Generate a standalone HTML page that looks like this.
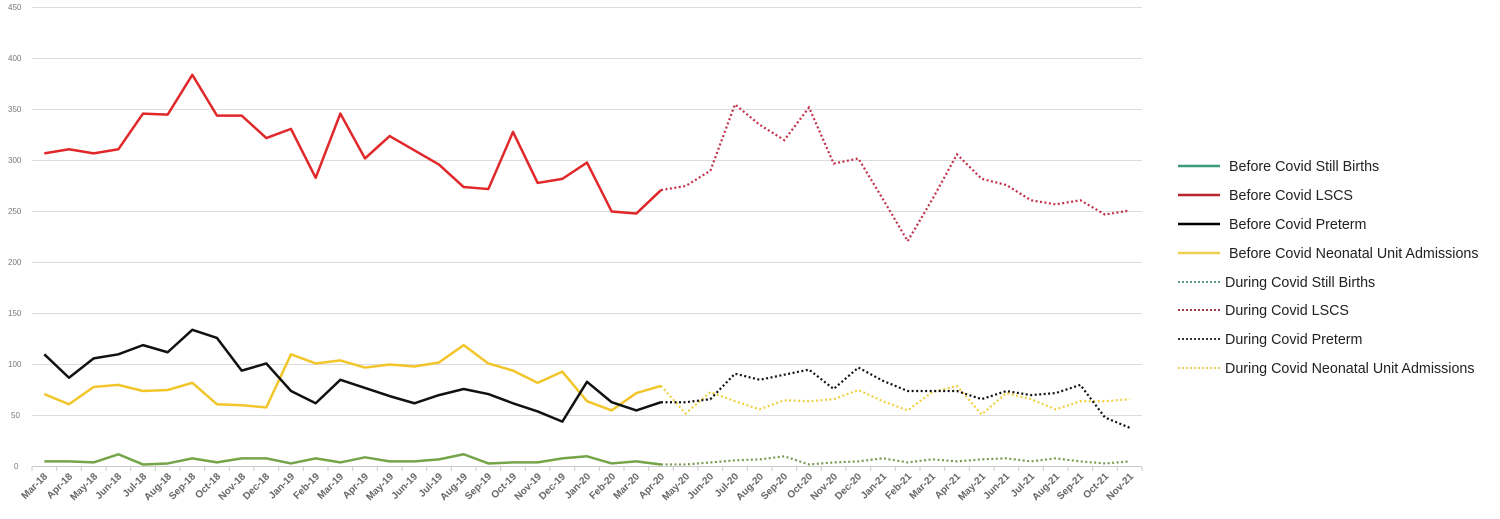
<!DOCTYPE html>
<html><head><meta charset="utf-8"><style>
body{margin:0;background:#fff;width:1500px;height:519px;overflow:hidden}
svg{display:block;font-family:"Liberation Sans",sans-serif}
.yl{font-size:8px;fill:#777}
.xl{font-size:10px;fill:#666;font-weight:bold}
.lg{font-size:14.3px;fill:#222}
</style></head><body>
<svg id="c" width="1500" height="519" viewBox="0 0 1500 519">
<g stroke="#dcdcdc" stroke-width="1">
<line x1="32" x2="1142" y1="7.5" y2="7.5"/><line x1="32" x2="1142" y1="58.5" y2="58.5"/>
<line x1="32" x2="1142" y1="109.5" y2="109.5"/><line x1="32" x2="1142" y1="160.5" y2="160.5"/>
<line x1="32" x2="1142" y1="211.5" y2="211.5"/><line x1="32" x2="1142" y1="262.5" y2="262.5"/>
<line x1="32" x2="1142" y1="313.5" y2="313.5"/><line x1="32" x2="1142" y1="364.5" y2="364.5"/>
<line x1="32" x2="1142" y1="415.5" y2="415.5"/><line x1="32" x2="1142" y1="466.5" y2="466.5" stroke="#c8c8c8"/>
</g>
<g class="yl" text-anchor="start">
<text x="8" y="10">450</text><text x="8" y="61">400</text><text x="8" y="112">350</text>
<text x="8" y="163">300</text><text x="8" y="214">250</text><text x="8" y="265">200</text>
<text x="8" y="316">150</text><text x="8" y="367">100</text><text x="11" y="418">50</text><text x="14" y="469">0</text>
</g>
<g id="ticks" stroke="#c8c8c8"></g>
<g id="series"></g>
<g class="xl" text-anchor="end">
<text transform="translate(48,477) rotate(-45)">Mar-18</text>
<text transform="translate(73,477) rotate(-45)">Apr-18</text>
<text transform="translate(98,477) rotate(-45)">May-18</text>
<text transform="translate(122,477) rotate(-45)">Jun-18</text>
<text transform="translate(147,477) rotate(-45)">Jul-18</text>
<text transform="translate(172,477) rotate(-45)">Aug-18</text>
<text transform="translate(196,477) rotate(-45)">Sep-18</text>
<text transform="translate(221,477) rotate(-45)">Oct-18</text>
<text transform="translate(246,477) rotate(-45)">Nov-18</text>
<text transform="translate(270,477) rotate(-45)">Dec-18</text>
<text transform="translate(295,477) rotate(-45)">Jan-19</text>
<text transform="translate(320,477) rotate(-45)">Feb-19</text>
<text transform="translate(344,477) rotate(-45)">Mar-19</text>
<text transform="translate(369,477) rotate(-45)">Apr-19</text>
<text transform="translate(394,477) rotate(-45)">May-19</text>
<text transform="translate(418,477) rotate(-45)">Jun-19</text>
<text transform="translate(443,477) rotate(-45)">Jul-19</text>
<text transform="translate(468,477) rotate(-45)">Aug-19</text>
<text transform="translate(492,477) rotate(-45)">Sep-19</text>
<text transform="translate(517,477) rotate(-45)">Oct-19</text>
<text transform="translate(542,477) rotate(-45)">Nov-19</text>
<text transform="translate(566,477) rotate(-45)">Dec-19</text>
<text transform="translate(591,477) rotate(-45)">Jan-20</text>
<text transform="translate(616,477) rotate(-45)">Feb-20</text>
<text transform="translate(640,477) rotate(-45)">Mar-20</text>
<text transform="translate(665,477) rotate(-45)">Apr-20</text>
<text transform="translate(690,477) rotate(-45)">May-20</text>
<text transform="translate(714,477) rotate(-45)">Jun-20</text>
<text transform="translate(739,477) rotate(-45)">Jul-20</text>
<text transform="translate(764,477) rotate(-45)">Aug-20</text>
<text transform="translate(788,477) rotate(-45)">Sep-20</text>
<text transform="translate(813,477) rotate(-45)">Oct-20</text>
<text transform="translate(838,477) rotate(-45)">Nov-20</text>
<text transform="translate(862,477) rotate(-45)">Dec-20</text>
<text transform="translate(887,477) rotate(-45)">Jan-21</text>
<text transform="translate(912,477) rotate(-45)">Feb-21</text>
<text transform="translate(936,477) rotate(-45)">Mar-21</text>
<text transform="translate(961,477) rotate(-45)">Apr-21</text>
<text transform="translate(986,477) rotate(-45)">May-21</text>
<text transform="translate(1010,477) rotate(-45)">Jun-21</text>
<text transform="translate(1035,477) rotate(-45)">Jul-21</text>
<text transform="translate(1060,477) rotate(-45)">Aug-21</text>
<text transform="translate(1084,477) rotate(-45)">Sep-21</text>
<text transform="translate(1109,477) rotate(-45)">Oct-21</text>
<text transform="translate(1134,477) rotate(-45)">Nov-21</text>
</g>
<g stroke-width="2.5">
<line x1="1178" x2="1220" y1="166" y2="166" stroke="#3a9a78"/>
<line x1="1178" x2="1220" y1="195" y2="195" stroke="#b8262b"/>
<line x1="1178" x2="1220" y1="224" y2="224" stroke="#000"/>
<line x1="1178" x2="1220" y1="253" y2="253" stroke="#f0d050"/>
</g>
<g stroke-width="2" stroke-dasharray="2 2">
<line x1="1178" x2="1220" y1="282" y2="282" stroke="#5a9a90"/>
<line x1="1178" x2="1220" y1="310" y2="310" stroke="#a83a50"/>
<line x1="1178" x2="1220" y1="339" y2="339" stroke="#333"/>
<line x1="1178" x2="1220" y1="368" y2="368" stroke="#e8d060"/>
</g>
<g class="lg">
<text x="1229" y="171">Before Covid Still Births</text>
<text x="1229" y="200">Before Covid LSCS</text>
<text x="1229" y="229">Before Covid Preterm</text>
<text x="1229" y="258">Before Covid Neonatal Unit Admissions</text>
<text x="1225" y="287">During Covid Still Births</text>
<text x="1225" y="315">During Covid LSCS</text>
<text x="1225" y="344">During Covid Preterm</text>
<text x="1225" y="373">During Covid Neonatal Unit Admissions</text>
</g>
</svg>
<script>
var NS="http://www.w3.org/2000/svg";
function X(i){return 32+24.667*(i+0.5);}
function Y(v){return 466.5-v*1.02;}
var t=document.getElementById('ticks');
for(var i=0;i<=45;i++){var l=document.createElementNS(NS,'line');var x=32+24.667*i;
l.setAttribute('x1',x);l.setAttribute('x2',x);l.setAttribute('y1',466.5);l.setAttribute('y2',471);t.appendChild(l);}
var S=[
 {c:"#e0282a",b:[307,311,307,311,346,345,384,344,344,322,331,283,346,302,324,310,296,274,272,328,278,282,298,250,248,271],
  d:[271,275,290,355,335,320,352,297,302,262,221,262,306,282,276,261,257,261,247,251],dc:"#c03048"},
 {c:"#f2c52a",b:[71,61,78,80,74,75,82,61,60,58,110,101,104,97,100,98,102,119,101,94,82,93,64,55,72,79],
  d:[79,52,73,64,56,65,64,66,75,64,55,73,79,51,72,66,56,64,64,66],dc:"#f0d040"},
 {c:"#111",b:[110,87,106,110,119,112,134,126,94,101,74,62,85,77,69,62,70,76,71,62,54,44,83,63,55,63],
  d:[63,63,66,91,85,90,95,76,97,84,74,74,74,66,74,70,72,80,48,38],dc:"#111"},
 {c:"#74a548",b:[5,5,4,12,2,3,8,4,8,8,3,8,4,9,5,5,7,12,3,4,4,8,10,3,5,2],
  d:[2,2,4,6,7,10,2,4,5,8,4,7,5,7,8,5,8,5,3,5],dc:"#7a9a50"}
];
var g=document.getElementById('series');
S.forEach(function(s){
 var p=s.b.map(function(v,i){return X(i)+","+Y(v)}).join(" ");
 var a=document.createElementNS(NS,'polyline');a.setAttribute('points',p);a.setAttribute('fill','none');
 a.setAttribute('stroke',s.c);a.setAttribute('stroke-width','2.5');a.setAttribute('stroke-linejoin','round');g.appendChild(a);
 var q=s.d.map(function(v,i){return X(i+25)+","+Y(v)}).join(" ");
 var b=document.createElementNS(NS,'polyline');b.setAttribute('points',q);b.setAttribute('fill','none');
 b.setAttribute('stroke',s.dc);b.setAttribute('stroke-width','2.2');b.setAttribute('stroke-dasharray','2 2.5');g.appendChild(b);
});
</script>
</body></html>
